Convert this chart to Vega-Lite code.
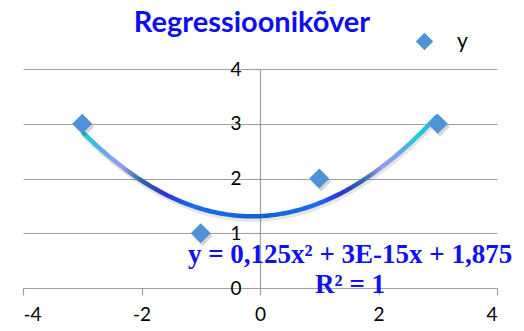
{
  "$schema": "https://vega.github.io/schema/vega-lite/v6.json",
  "width": 474,
  "height": 219,
  "autosize": "none",
  "padding": {"left": 23, "top": 69, "right": 27, "bottom": 43},
  "background": "white",
  "title": {
    "text": "Regressioonikõver",
    "font": "Lato",
    "fontSize": 29,
    "fontWeight": "bold",
    "color": "#0D0DF0",
    "anchor": "middle",
    "frame": "group",
    "baseline": "alphabetic",
    "offset": -30,
    "dx": -8
  },
  "config": {
    "view": {"stroke": null},
    "axis": {
      "labelFont": "Lato",
      "labelFontSize": 19,
      "labelColor": "#000000",
      "domainColor": "#A0A0A0",
      "tickColor": "#A0A0A0",
      "gridColor": "#A0A0A0",
      "gridWidth": 1.2,
      "domainWidth": 1.2,
      "tickWidth": 1.2,
      "labelExpr": "'' + datum.value",
      "title": null
    }
  },
  "data": {
    "values": [
      {"x": -3, "y": 3, "series": "y"},
      {"x": -1, "y": 1, "series": "y"},
      {"x": 1, "y": 2, "series": "y"},
      {"x": 3, "y": 3, "series": "y"}
    ]
  },
  "layer": [
    {
      "transform": [
        {"regression": "y", "on": "x", "method": "poly", "order": 2, "extent": [-3, 3]}
      ],
      "mark": {"type": "line", "stroke": "#000000", "strokeWidth": 5, "opacity": 0.1, "yOffset": 3, "xOffset": 1},
      "encoding": {
        "x": {"field": "x", "type": "quantitative", "scale": {"domain": [-4, 4]}},
        "y": {"field": "y", "type": "quantitative", "scale": {"domain": [0, 4]}}
      }
    },
    {
      "transform": [
        {"regression": "y", "on": "x", "method": "poly", "order": 2, "extent": [-3, 3]}
      ],
      "mark": {
        "type": "line",
        "strokeWidth": 4.5,
        "strokeCap": "butt",
        "stroke": {
          "gradient": "linear",
          "x1": 0, "y1": 0, "x2": 1, "y2": 0,
          "stops": [
            {"offset": 0, "color": "#1CCFD4"},
            {"offset": 0.06, "color": "#5FA9EC"},
            {"offset": 0.11, "color": "#9A9CF6"},
            {"offset": 0.165, "color": "#2E6C9C"},
            {"offset": 0.23, "color": "#2C33D6"},
            {"offset": 0.31, "color": "#1A6CF2"},
            {"offset": 0.5, "color": "#1462CE"},
            {"offset": 0.66, "color": "#1A6CF2"},
            {"offset": 0.73, "color": "#2C33D6"},
            {"offset": 0.79, "color": "#2E6C9C"},
            {"offset": 0.845, "color": "#9A9CF6"},
            {"offset": 0.9, "color": "#5FA9EC"},
            {"offset": 0.95, "color": "#1CCFD4"},
            {"offset": 1, "color": "#3AA8E8"}
          ]
        }
      },
      "encoding": {
        "x": {
          "field": "x", "type": "quantitative",
          "scale": {"domain": [-4, 4]},
          "axis": {"values": [-4, -2, 0, 2, 4], "grid": false, "tickSize": 7, "labelPadding": 10}
        },
        "y": {
          "field": "y", "type": "quantitative",
          "scale": {"domain": [0, 4]},
          "axis": {"values": [0, 1, 2, 3, 4], "grid": true, "offset": -237, "tickSize": 7, "labelPadding": 12}
        }
      }
    },
    {
      "mark": {"type": "point", "shape": "diamond", "filled": true, "size": 400, "color": "#000000", "opacity": 0.16, "xOffset": 2, "yOffset": 3},
      "encoding": {
        "x": {"field": "x", "type": "quantitative"},
        "y": {"field": "y", "type": "quantitative"}
      }
    },
    {
      "mark": {"type": "point", "shape": "diamond", "filled": true, "size": 400, "opacity": 1},
      "encoding": {
        "x": {"field": "x", "type": "quantitative"},
        "y": {"field": "y", "type": "quantitative"},
        "color": {
          "field": "series", "type": "nominal",
          "scale": {"range": ["#4F92D8"]},
          "legend": {
            "title": null,
            "orient": "none",
            "legendX": 391,
            "legendY": -38,
            "symbolType": "diamond",
            "symbolSize": 300,
            "symbolStrokeWidth": 0,
            "labelFont": "Lato",
            "labelFontSize": 21,
            "labelColor": "#000000",
            "labelOffset": 22
          }
        }
      }
    },
    {
      "data": {
        "values": [
          {"x": 1.52, "y": 0.46, "label": "y = 0,125x² + 3E-15x + 1,875"},
          {"x": 1.52, "y": -0.09, "label": "R² = 1"}
        ]
      },
      "mark": {"type": "text", "font": "Liberation Serif", "fontWeight": "bold", "fontSize": 27, "color": "#1010F2", "align": "center", "baseline": "alphabetic"},
      "encoding": {
        "x": {"field": "x", "type": "quantitative"},
        "y": {"field": "y", "type": "quantitative"},
        "text": {"field": "label"}
      }
    }
  ]
}
